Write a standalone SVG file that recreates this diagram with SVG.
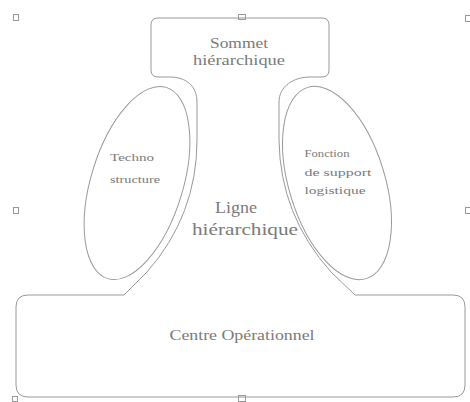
<svg xmlns="http://www.w3.org/2000/svg" width="470" height="402" viewBox="0 0 470 402">
<style>
.ln{fill:none;stroke:#999;stroke-width:1}
.hd{fill:#fff;stroke:#999;stroke-width:1}
.t{font-family:"Liberation Serif","Times New Roman",serif;fill:#7a7a7a;text-anchor:middle}
</style>
<rect width="470" height="402" fill="#fff"/>
<g id="handles">
<rect class="hd" x="13.5" y="14.5" width="5" height="6"/>
<rect class="hd" x="465.5" y="15.5" width="5" height="6"/>
<rect class="hd" x="13.5" y="207.5" width="5" height="6"/>
<rect class="hd" x="465.5" y="207.5" width="5" height="6"/>
<rect class="hd" x="238.5" y="14.5" width="7" height="5"/>
<rect class="hd" x="238.5" y="395.5" width="7" height="6"/>
<rect class="hd" x="12.5" y="396.5" width="5" height="5"/>
</g>
<g id="sommet">
<path class="ln" d="M170,77 H158 Q151,77 151,70 V25 Q151,18 158,18 H322 Q329,18 329,25 V70 Q329,77 322,77 H310"/>
<text class="t" font-size="15" x="239" y="48" textLength="58" lengthAdjust="spacingAndGlyphs">Sommet</text>
<text class="t" font-size="15" x="239" y="65" textLength="92" lengthAdjust="spacingAndGlyphs">hiérarchique</text>
</g>
<g id="ligne">
<path class="ln" d="M170,77 C186,77 197,86 197,102 V140 Q197,215 147,272 L124,295"/>
<path class="ln" d="M310,77 C294,77 279,86 279,102 V140 Q280,215 331,272 L355,295"/>
<text class="t" font-size="16" x="236" y="213" textLength="42" lengthAdjust="spacingAndGlyphs">Ligne</text>
<text class="t" font-size="16" x="245" y="235" textLength="106" lengthAdjust="spacingAndGlyphs">hiérarchique</text>
</g>
<g id="technostructure">
<ellipse class="ln" cx="137" cy="183" rx="46" ry="100" transform="rotate(17 137 183)"/>
<text class="t" font-size="11" x="132" y="161" textLength="44" lengthAdjust="spacingAndGlyphs">Techno</text>
<text class="t" font-size="11" x="135" y="183" textLength="50" lengthAdjust="spacingAndGlyphs">structure</text>
</g>
<g id="support">
<ellipse class="ln" cx="337" cy="183" rx="48" ry="100" transform="rotate(-17 337 183)"/>
<text class="t" font-size="11" x="327" y="157" textLength="45" lengthAdjust="spacingAndGlyphs">Fonction</text>
<text class="t" font-size="11" x="338" y="176" textLength="67" lengthAdjust="spacingAndGlyphs">de support</text>
<text class="t" font-size="11" x="335" y="194" textLength="61" lengthAdjust="spacingAndGlyphs">logistique</text>
</g>
<g id="centre">
<path class="ln" d="M124,295 H28 Q16,295 16,307 V385 Q16,397 28,397 H453 Q465,397 465,385 V307 Q465,295 453,295 H355"/>
<text class="t" font-size="15" x="242" y="340" textLength="145" lengthAdjust="spacingAndGlyphs">Centre Opérationnel</text>
</g>
</svg>
